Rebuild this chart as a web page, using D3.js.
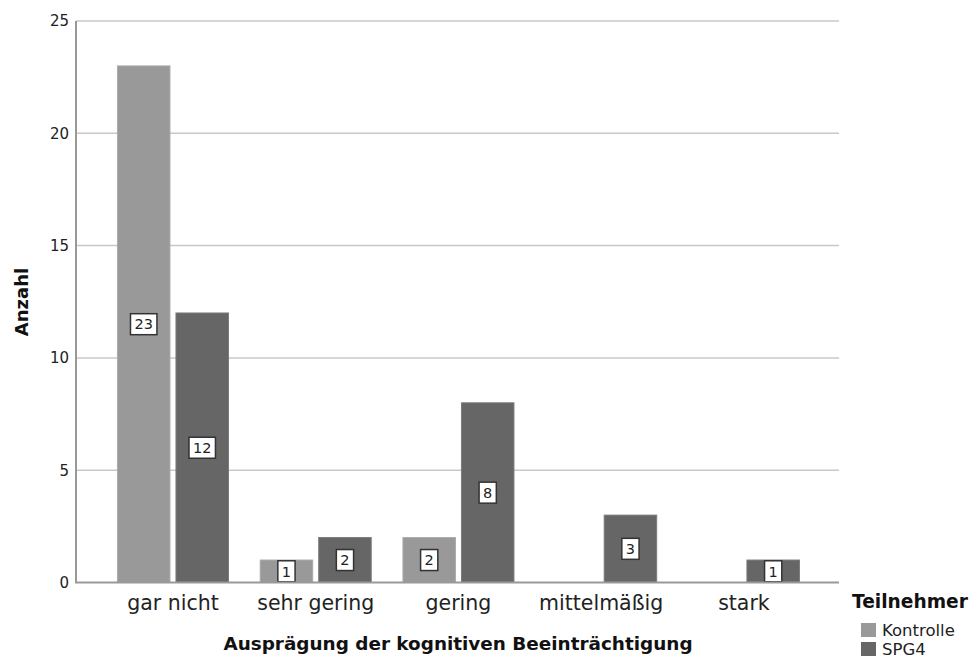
<!DOCTYPE html>
<html>
<head>
<meta charset="utf-8">
<script src="https://d3js.org/d3.v7.min.js"></script>
<style>
  html, body { margin: 0; padding: 0; background: #fff; }
  svg { display: block; font-family: "DejaVu Sans", "Liberation Sans", sans-serif; }
</style>
</head>
<body>
<svg id="chart" width="971" height="659"></svg>
<script>
const categories = ["gar nicht", "sehr gering", "gering", "mittelmäßig", "stark"];
const seriesNames = ["Kontrolle", "SPG4"];
const kontrolle = [23, 1, 2, 0, 0];
const spg4 = [12, 2, 8, 3, 1];
const yTicks = [0, 5, 10, 15, 20, 25];
const colors = { "Kontrolle": "#999999", "SPG4": "#666666" };
const strokes = { "Kontrolle": "#aaaaaa", "SPG4": "#7a7a7a" };

const data = categories.map((c, i) => ({
  category: c,
  values: [
    { series: "Kontrolle", value: kontrolle[i] },
    { series: "SPG4", value: spg4[i] }
  ]
}));

const svg = d3.select("#chart");
const plotLeft = 76, plotRight = 839, plotTop = 21, plotBottom = 582.5;

const y = d3.scaleLinear().domain([0, 25]).range([plotBottom, plotTop]);
const x0 = d3.scaleBand().domain(categories).range([101.6, 815.3]).padding(0);
const halfGroup = 55.5;
const x1 = d3.scaleBand().domain(seriesNames)
  .range([x0.bandwidth() / 2 - halfGroup, x0.bandwidth() / 2 + halfGroup])
  .paddingInner(0.1026).paddingOuter(0);

// gridlines
svg.append("g").selectAll("line").data(yTicks.filter(d => d > 0)).join("line")
  .attr("x1", plotLeft).attr("x2", plotRight)
  .attr("y1", d => y(d)).attr("y2", d => y(d))
  .attr("stroke", "#c8c8c8").attr("stroke-width", 1.5);

// y tick labels
svg.append("g").selectAll("text").data(yTicks).join("text")
  .attr("x", 69).attr("y", d => y(d)).attr("dy", "0.36em")
  .attr("text-anchor", "end")
  .attr("font-size", 15).attr("fill", "#222")
  .text(d => d);

// bars
const groups = svg.append("g").selectAll("g").data(data).join("g")
  .attr("transform", d => `translate(${x0(d.category)},0)`);

groups.selectAll("rect").data(d => d.values.filter(v => v.value > 0)).join("rect")
  .attr("x", d => x1(d.series))
  .attr("width", x1.bandwidth())
  .attr("y", d => y(d.value))
  .attr("height", d => y(0) - y(d.value))
  .attr("fill", d => colors[d.series])
  .attr("stroke", d => strokes[d.series])
  .attr("stroke-width", 1);

// value labels
const labels = groups.selectAll("g.lbl").data(d => d.values.filter(v => v.value > 0)).join("g")
  .attr("class", "lbl")
  .attr("transform", d => `translate(${x1(d.series) + x1.bandwidth() / 2},${(y(d.value) + y(0)) / 2})`);
labels.each(function(d) {
  const g = d3.select(this);
  const t = g.append("text").attr("text-anchor", "middle").attr("dy", "0.36em")
    .attr("font-size", 14.5).attr("fill", "#222").text(d.value);
  const w = t.node().getComputedTextLength();
  g.insert("rect", "text")
    .attr("x", -w / 2 - 4).attr("y", -10.5).attr("width", w + 8).attr("height", 21)
    .attr("fill", "#fff").attr("stroke", "#333").attr("stroke-width", 1.5);
});

// axes lines
svg.append("line").attr("x1", plotLeft).attr("x2", plotLeft).attr("y1", plotTop).attr("y2", plotBottom)
  .attr("stroke", "#999").attr("stroke-width", 2);
svg.append("line").attr("x1", plotLeft - 1).attr("x2", plotRight).attr("y1", plotBottom).attr("y2", plotBottom)
  .attr("stroke", "#999").attr("stroke-width", 2);

// x tick labels
svg.append("g").selectAll("text").data(categories).join("text")
  .attr("x", d => x0(d) + x0.bandwidth() / 2).attr("y", 610)
  .attr("text-anchor", "middle").attr("font-size", 20.5).attr("fill", "#222")
  .text(d => d);

// axis titles
svg.append("text").attr("x", 458).attr("y", 650).attr("text-anchor", "middle")
  .attr("font-size", 18.4).attr("font-weight", "bold").attr("fill", "#111")
  .text("Ausprägung der kognitiven Beeinträchtigung");
svg.append("text").attr("transform", "translate(28,302) rotate(-90)").attr("text-anchor", "middle")
  .attr("font-size", 18).attr("font-weight", "bold").attr("fill", "#111")
  .text("Anzahl");

// legend
svg.append("text").attr("x", 852).attr("y", 608).attr("font-size", 18.6).attr("font-weight", "bold")
  .attr("fill", "#111").text("Teilnehmer");
const leg = svg.append("g").selectAll("g").data(seriesNames).join("g")
  .attr("transform", (d, i) => `translate(861,${623 + i * 19})`);
leg.append("rect").attr("width", 15).attr("height", 14).attr("fill", d => colors[d]);
leg.append("text").attr("x", 21).attr("y", 13).attr("font-size", 16.5).attr("fill", "#222").text(d => d);
</script>
</body>
</html>
